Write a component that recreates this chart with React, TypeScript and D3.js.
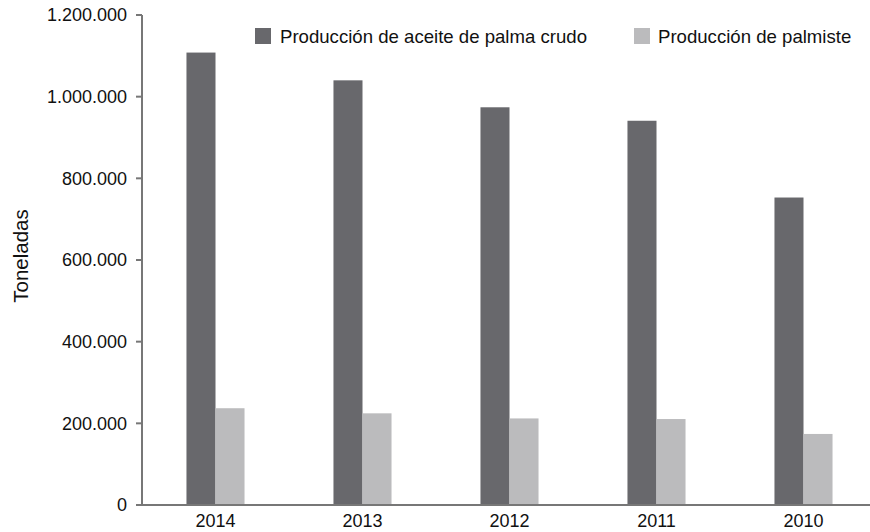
import React from "react";
import * as d3 from "d3";

const years = ["2014", "2013", "2012", "2011", "2010"];
const aceite = [1108000, 1040000, 974000, 941000, 753000];
const palmiste = [237000, 224500, 212000, 210500, 174000];
const seriesNames = ["Producción de aceite de palma crudo", "Producción de palmiste"];
const yTicks = [0, 200000, 400000, 600000, 800000, 1000000, 1200000];

const W = 870;
const H = 532;
const colors = ["#68686c", "#bbbbbd"];
const font = "Liberation Sans, Arial, Helvetica, sans-serif";

const locale = d3.formatLocale({ decimal: ",", thousands: ".", grouping: [3], currency: ["", ""] });
const fmt = locale.format(",");

export default function App() {
  const y = d3.scaleLinear().domain([0, 1200000]).range([505, 15]);
  const x = d3.scaleBand().domain(years).range([142, 877]).paddingInner(0.605).paddingOuter(0.3025);
  const xs = d3.scaleBand().domain(["a", "p"]).range([0, x.bandwidth()]);
  const series = [aceite, palmiste];

  return (
    <svg width={W} height={H} style={{ position: "absolute", left: 0, top: 0, background: "#fff" }} fontFamily={font}>
      {series.map((vals, si) =>
        years.map((yr, i) => (
          <rect
            key={si + "-" + yr}
            x={(x(yr) as number) + (xs(si === 0 ? "a" : "p") as number)}
            y={y(vals[i])}
            width={xs.bandwidth()}
            height={y(0) - y(vals[i])}
            fill={colors[si]}
          />
        ))
      )}
      {/* y axis */}
      <line x1={142} x2={142} y1={y(1200000)} y2={y(0)} stroke="#777" strokeWidth={2} />
      {yTicks.map((t) => (
        <g key={t}>
          <line x1={136} x2={142} y1={y(t)} y2={y(t)} stroke="#777" strokeWidth={2} />
          <text x={127} y={y(t)} dy="0.35em" textAnchor="end" fontSize={18} fill="#111">
            {fmt(t)}
          </text>
        </g>
      ))}
      {/* x axis */}
      <line x1={142} x2={870} y1={y(0)} y2={y(0)} stroke="#777" strokeWidth={2} />
      {years.map((yr) => (
        <text key={yr} x={(x(yr) as number) + x.bandwidth() / 2} y={527} textAnchor="middle" fontSize={18} fill="#111">
          {yr}
        </text>
      ))}
      <text transform="translate(28,256) rotate(-90)" textAnchor="middle" fontSize={20.5} fill="#111">
        Toneladas
      </text>
      {/* legend */}
      <rect x={255} y={28} width={16} height={16} fill={colors[0]} />
      <text x={280} y={43} fontSize={18.6} fill="#111">{seriesNames[0]}</text>
      <rect x={634} y={28} width={16} height={16} fill={colors[1]} />
      <text x={658} y={43} fontSize={18.6} fill="#111">{seriesNames[1]}</text>
    </svg>
  );
}
